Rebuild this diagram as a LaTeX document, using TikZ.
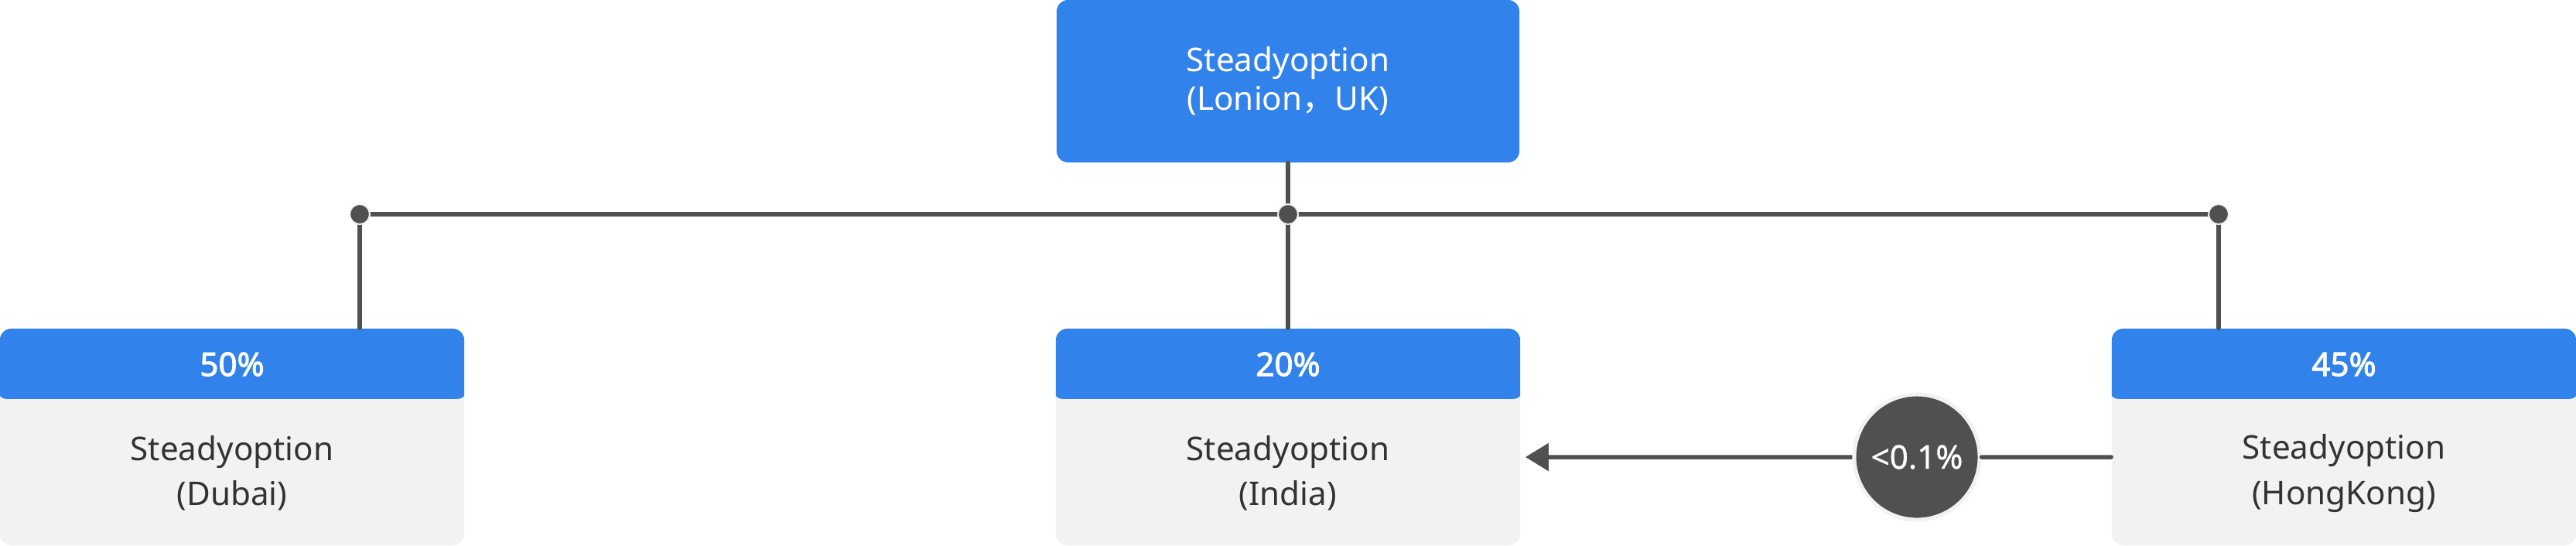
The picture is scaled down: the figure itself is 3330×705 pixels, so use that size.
\documentclass[tikz,border=0pt]{standalone}
\usepackage{fontspec}
\setmainfont{Noto Sans}
\newfontfamily\cjk{Noto Sans CJK SC}
\newfontfamily\pctfont{Noto Sans}[FakeBold=2.2]
\newfontfamily\midfont{Noto Sans}[FakeBold=0.8]
\usetikzlibrary{arrows.meta}
\definecolor{hdrblue}{HTML}{3182EB}
\definecolor{darkln}{HTML}{505050}
\definecolor{bodygray}{HTML}{F2F2F2}
\definecolor{bodytext}{HTML}{333333}
\tikzset{
  conn/.style={draw=darkln, line width=0.055cm, line cap=round},
  topbox/.style={rectangle, rounded corners=0.15cm, fill=hdrblue, minimum width=5.98cm, minimum height=2.1cm, inner sep=0pt, text=white, align=center, font=\fontsize{12}{14.2}\selectfont},
  entbox/.style={rectangle, rounded corners=0.15cm, fill=bodygray, minimum width=6cm, minimum height=2.8cm, inner sep=0pt,
    path picture={\fill[hdrblue] ([yshift=0.05cm,xshift=-0.05cm]path picture bounding box.north west) rectangle ([yshift=-0.91cm,xshift=0.05cm]path picture bounding box.north east);}},
  pctlabel/.style={text=white, font=\pctfont\fontsize{12}{14}\selectfont, inner sep=0pt},
  bodylabel/.style={text=bodytext, align=center, font=\fontsize{12}{16.5}\selectfont, inner sep=0pt},
  junction/.style={circle, fill=darkln, draw=bodygray, line width=0.02cm, minimum size=0.26cm, inner sep=0pt},
  ratio/.style={circle, fill=darkln, draw=bodygray, line width=0.05cm, minimum size=1.62cm, inner sep=0pt, text=white, font=\midfont\fontsize{12}{14}\selectfont},
}
\begin{document}
\begin{tikzpicture}[x=0.01cm, y=-0.01cm]
\useasboundingbox (0,0) rectangle (3330,705);
% boxes
\node[topbox] (uk) at (1665,105) {Steadyoption\\(Lonion{\cjk ，}UK)};
\node[entbox] (dubai) at (300,565) {};
\node[entbox] (india) at (1665,565) {};
\node[entbox] (hk) at (3030,565) {};
% header labels
\node[pctlabel] (pd) at (300,471) {50\%};
\node[pctlabel] (pi) at (1665,471) {20\%};
\node[pctlabel] (ph) at (3030,471) {45\%};
% body labels
\node[bodylabel] (bd) at (300,612) {Steadyoption\\(Dubai)};
\node[bodylabel] (bi) at (1665,612) {Steadyoption\\(India)};
\node[bodylabel] (bh) at (3030,612) {Steadyoption\\(HongKong)};
% junctions
\coordinate (j1) at (465,277);
\coordinate (j2) at (1665,277);
\coordinate (j3) at (2868,277);
\draw[conn] (j1) -- (j3);
\draw[conn] (uk.south) -- (india.north);
\draw[conn] (j1) -- (j1 |- dubai.north);
\draw[conn] (j3) -- (j3 |- hk.north);
\node[junction] (d1) at (j1) {};
\node[junction] (d2) at (j2) {};
\node[junction] (d3) at (j3) {};
% cross holding
\node[ratio] (r) at (2478,591) {<0.1\%};
\coordinate (aS) at ([yshift=-0.26cm]hk.west);
\coordinate (aE) at ([xshift=0.06cm,yshift=-0.26cm]india.east);
\draw[conn] (aS) -- (r);
\draw[conn, line cap=butt, -{Triangle[length=0.3cm, width=0.35cm]}] (r) -- (aE);
\end{tikzpicture}
\end{document}
